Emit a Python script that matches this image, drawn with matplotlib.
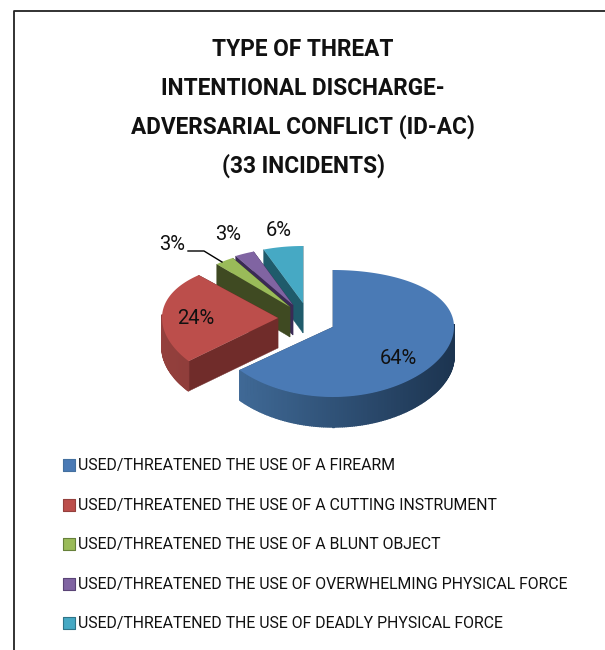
import numpy as np
import matplotlib
matplotlib.use('Agg')
import matplotlib.pyplot as plt
from matplotlib.colors import to_rgb

# Datos
categories = ['USED/THREATENED THE USE OF A FIREARM',
              'USED/THREATENED THE USE OF A CUTTING INSTRUMENT',
              'USED/THREATENED THE USE OF A BLUNT OBJECT',
              'USED/THREATENED THE USE OF OVERWHELMING PHYSICAL FORCE',
              'USED/THREATENED THE USE OF DEADLY PHYSICAL FORCE']
values = [64, 24, 3, 3, 6]
pct_labels = ['64%', '24%', '3%', '3%', '6%']
title_lines = ['TYPE OF THREAT', 'INTENTIONAL DISCHARGE-',
               'ADVERSARIAL CONFLICT (ID-AC)', '(33 INCIDENTS)']

# Estilo
top_colors = ['#4a7ab5', '#bc4e4b', '#9abb59', '#8064a2', '#46a9c4']
wall_left = ['#44709f', '#94403d', '#66803a', '#5a4476', '#2f7488']
wall_right = ['#1c3450', '#6b2a28', '#3f4a22', '#3a2a55', '#1f5b6b']
cut_colors = ['#2f5078', '#702c2a', '#3f4a22', '#3a2a55', '#1f5b6b']
apex = [(333, 327), (278, 318), (290, 307), (293, 305), (303, 303)]
radius = [121, 116, 107, 107, 107]
label_pos = [(398, 358), (196, 319), (172, 245), (228, 234), (279, 230)]
legend_y = [465, 505, 544, 584, 623]
DEPTH = 30
font = 'Roboto'

fig = plt.figure(figsize=(6.05, 6.5), dpi=100)
ax = fig.add_axes([0, 0, 1, 1])
ax.set_xlim(0, 605)
ax.set_ylim(650, 0)
ax.axis('off')

# Marco (sin lado derecho)
ax.plot([14, 14, 605], [650, 11, 11], color='#222222', lw=1.3)

# Titulo
for i, line in enumerate(title_lines):
    ax.text(303, 50 + i * 38.5, line, ha='center', va='center',
            fontsize=16.3, fontweight='bold', family=font, color='#111111')


def project(theta, ax0, ay0, r):
    # angulo horario desde las 12; el frente se ve un poco mas grande
    c = -np.cos(theta)
    return ax0 + r * np.sin(theta), ay0 + 63.5 * c + 6.5 * c ** 2


def mix(a, b, t):
    a, b = np.array(to_rgb(a)), np.array(to_rgb(b))
    return tuple(a + (b - a) * t)


# Pastel 3D, de atras hacia delante
edges = np.cumsum([0] + values) / sum(values) * 2 * np.pi
for i in [4, 3, 2, 1, 0]:
    t0, t1 = edges[i], edges[i + 1]
    x0, y0 = apex[i]
    th = np.linspace(t0, t1, max(int((t1 - t0) * 60), 4))
    px, py = project(th, x0, y0, radius[i])
    # caras del corte
    for ex, ey in [(px[0], py[0]), (px[-1], py[-1])]:
        ax.fill([x0, ex, ex, x0], [y0, ey, ey + DEPTH, y0 + DEPTH],
                color=cut_colors[i], lw=0.3, zorder=2 + (4 - i) * 3)
    # pared exterior
    for k in range(len(th) - 1):
        if np.cos(th[k]) > 0.05:
            continue
        s = 1 - (np.sin(th[k]) + 1) / 2
        ax.fill([px[k], px[k + 1], px[k + 1], px[k]],
                [py[k], py[k + 1], py[k + 1] + DEPTH, py[k] + DEPTH],
                color=mix(wall_right[i], wall_left[i], s), lw=1,
                zorder=3 + (4 - i) * 3)
    # cara superior
    ax.fill(np.r_[x0, px], np.r_[y0, py], color=top_colors[i], lw=0,
            zorder=4 + (4 - i) * 3)

# Etiquetas
for lab, (lx, ly) in zip(pct_labels, label_pos):
    ax.text(lx, ly, lab, ha='center', va='center', fontsize=14.5, family=font,
            color='#111111', zorder=30)
ax.plot([188, 204, 222], [251, 251, 262], color='black', lw=1, zorder=30)

# Leyenda
for i, cat in enumerate(categories):
    ax.scatter([69], [legend_y[i]], marker='s', s=75, color=top_colors[i],
               edgecolors=wall_left[i], linewidths=0.8, zorder=5)
    ax.text(78, legend_y[i] + 0.5, cat, ha='left', va='center', fontsize=11.42,
            family=font, color='#111111')

fig.savefig('out.png', dpi=100)
